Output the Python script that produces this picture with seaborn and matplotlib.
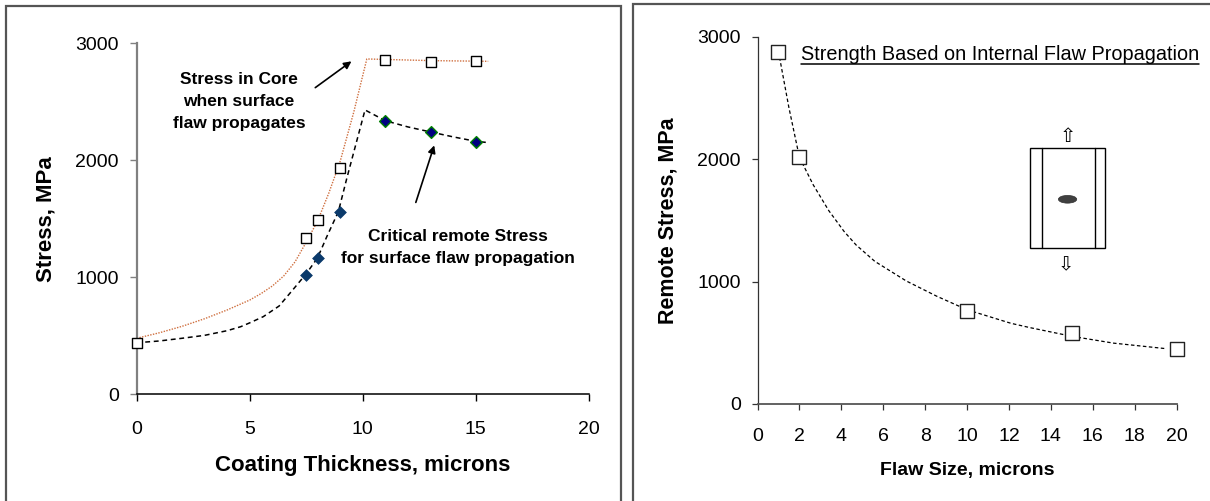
import numpy as np
import pandas as pd
import matplotlib
matplotlib.use("Agg")
import matplotlib.pyplot as plt
import seaborn as sns
from matplotlib.patches import Rectangle, Ellipse
from matplotlib.lines import Line2D

# ---------------- data ----------------
# Left panel: coating thickness (microns) vs stress (MPa)
core_x = [0, 7.5, 8, 9, 11, 13, 15]
core_y = [440, 1333, 1489, 1931, 2857, 2838, 2846]
crit_lo_x = [7.5, 8, 9]
crit_lo_y = [1019, 1162, 1560]
crit_hi_x = [11, 13, 15]
crit_hi_y = [2338, 2242, 2160]
core_trend_x = [0, 1, 2, 3, 4, 5, 5.5, 6, 6.5, 7, 7.5, 8, 8.5, 9, 9.6, 10.18, 11, 13, 15.55]
core_trend_y = [478, 525, 580, 645, 720, 805, 860, 925, 1010, 1130, 1300, 1480, 1720, 1990, 2410, 2866, 2862, 2852, 2846]
crit_trend_x = [0, 1, 2, 3, 4, 4.6, 5, 5.6, 6.3, 6.9, 7.5, 8, 8.41, 8.92, 9.3, 9.7, 10.1, 11, 12, 13, 14, 15, 15.6]
crit_trend_y = [440, 455, 478, 503, 543, 577, 610, 663, 754, 891, 1030, 1165, 1347, 1560, 1850, 2140, 2430, 2338, 2285, 2242, 2200, 2162, 2150]
left_xticks = [0, 5, 10, 15, 20]
left_yticks = [0, 1000, 2000, 3000]

# Right panel: flaw size (microns) vs remote stress (MPa)
flaw_x = [1, 2, 10, 15, 20]
flaw_y = [2873, 2015, 762, 583, 447]
flaw_trend_x = [1, 1.5, 2, 2.66, 3.4, 4.13, 4.7, 5.6, 7.1, 8.56, 10, 12.1, 13, 15, 17, 19.5]
flaw_trend_y = [2880, 2420, 2015, 1790, 1580, 1410, 1300, 1165, 1005, 880, 770, 659, 624, 553, 497, 452]
right_xticks = [0, 2, 4, 6, 8, 10, 12, 14, 16, 18, 20]
right_yticks = [0, 1000, 2000, 3000]

# ---------------- style ----------------
sns.set_theme(style="ticks")
plt.rcParams["font.family"] = ["Liberation Sans", "DejaVu Sans"]
plt.rcParams["text.color"] = "black"
plt.rcParams["axes.labelcolor"] = "black"
plt.rcParams["xtick.color"] = "black"
plt.rcParams["ytick.color"] = "black"

W, H = 1210, 501
fig = plt.figure(figsize=(W / 100, H / 100), dpi=100)
fig.patch.set_facecolor("white")

# panel borders
fig.add_artist(Rectangle((6 / W, -0.05), (621 - 6) / W, 1.05 - 6 / H,
                         transform=fig.transFigure, fill=False, lw=1.6, ec="#555555"))
fig.add_artist(Rectangle((633 / W, -0.05), (1230 - 633) / W, 1.05 - 4 / H,
                         transform=fig.transFigure, fill=False, lw=1.6, ec="#555555"))

ax1 = fig.add_axes([136.7 / W, 1 - 394.2 / H, (588.8 - 136.7) / W, (394.2 - 43.3) / H])
ax2 = fig.add_axes([757.5 / W, 1 - 404 / H, (1176.5 - 757.5) / W, (404 - 36.7) / H])

# ---------------- left panel ----------------
sns.lineplot(x=core_trend_x, y=core_trend_y, ax=ax1, sort=False, estimator=None,
             color="#CF6F3F", lw=1.0, linestyle=(0, (1, 1)))
sns.lineplot(x=crit_trend_x, y=crit_trend_y, ax=ax1, sort=False, estimator=None,
             color="black", lw=1.1, linestyle=(0, (3.2, 2.4)))
sns.scatterplot(x=core_x, y=core_y, ax=ax1, marker="s", s=62, color="white",
                edgecolor="black", linewidth=1.0, clip_on=False, zorder=5)
sns.scatterplot(x=crit_lo_x, y=crit_lo_y, ax=ax1, marker="D", s=36, color="#0B3A6B",
                edgecolor="#0B3A6B", linewidth=0.5, zorder=5)
sns.scatterplot(x=crit_hi_x, y=crit_hi_y, ax=ax1, marker="D", s=36, color="#000080",
                edgecolor="#008000", linewidth=1.0, zorder=5)

ax1.set_xlim(0, 20)
ax1.set_ylim(0, 3000)
ax1.set_xticks(left_xticks)
ax1.set_yticks(left_yticks)
for s in ["top", "right"]:
    ax1.spines[s].set_visible(False)
ax1.spines["left"].set_color("#808080")
ax1.spines["left"].set_linewidth(1.6)
ax1.spines["bottom"].set_color("black")
ax1.spines["bottom"].set_linewidth(1.1)
ax1.tick_params(axis="y", direction="out", length=5, width=1, color="#808080", pad=8, labelsize=14)
ax1.tick_params(axis="x", direction="out", length=5, width=1, color="black", pad=14, labelsize=14)

ax1.set_xlabel("Coating Thickness, microns", fontsize=16, fontweight="bold")
ax1.xaxis.label.set_va("center")
ax1.xaxis.set_label_coords(0.5, -0.2018)
ax1.set_ylabel("Stress, MPa", fontsize=16, fontweight="bold")
ax1.yaxis.label.set_va("center")
ax1.yaxis.set_label_coords(-0.2006, 0.5)

ax1.text(4.52, 2501, "Stress in Core\nwhen surface\nflaw propagates", ha="center", va="center",
         multialignment="center", fontsize=12.5, fontweight="bold", linespacing=1.6)
ax1.text(14.19, 1252, "Critical remote Stress\nfor surface flaw propagation", ha="center",
         va="center", multialignment="center", fontsize=12.5, fontweight="bold", linespacing=1.6)
ax1.annotate("", xy=(9.6, 2860), xytext=(7.8, 2607),
             arrowprops=dict(arrowstyle="-|>", color="black", lw=1.2, mutation_scale=11))
ax1.annotate("", xy=(13.2, 2150), xytext=(12.31, 1617),
             arrowprops=dict(arrowstyle="-|>", color="black", lw=1.2, mutation_scale=11))

# ---------------- right panel ----------------
sns.lineplot(x=flaw_trend_x, y=flaw_trend_y, ax=ax2, sort=False, estimator=None,
             color="black", lw=0.9, linestyle=(0, (2.8, 2.0)))
sns.scatterplot(x=flaw_x, y=flaw_y, ax=ax2, marker="s", s=100, color="white",
                edgecolor="#222222", linewidth=1.0, clip_on=False, zorder=5)

ax2.set_xlim(0, 20)
ax2.set_ylim(0, 3000)
ax2.set_xticks(right_xticks)
ax2.set_yticks(right_yticks)
for s in ["top", "right"]:
    ax2.spines[s].set_visible(False)
ax2.spines["left"].set_color("#333333")
ax2.spines["left"].set_linewidth(0.9)
ax2.spines["bottom"].set_color("#555555")
ax2.spines["bottom"].set_linewidth(1.3)
ax2.tick_params(axis="y", direction="out", length=4, width=0.9, color="#333333", pad=8, labelsize=14)
ax2.tick_params(axis="x", direction="out", length=4, width=0.9, color="#333333", pad=13, labelsize=14)

ax2.set_xlabel("Flaw Size, microns", fontsize=14, fontweight="bold")
ax2.xaxis.label.set_va("center")
ax2.xaxis.set_label_coords(0.5, -0.1797)
ax2.set_ylabel("Remote Stress, MPa", fontsize=15.5, fontweight="bold")
ax2.yaxis.label.set_va("center")
ax2.yaxis.set_label_coords(-0.213, 0.5)

title = ax2.text(2.06, 2857, "Strength Based on Internal Flaw Propagation", ha="left",
                 va="center", fontsize=14.3, clip_on=False)

# specimen sketch
ax2.add_patch(Rectangle((13.0, 1272), 3.6, 817, fill=False, lw=1.0, ec="black"))
ax2.plot([13.57, 13.57], [1272, 2089], color="black", lw=1.0)
ax2.plot([16.09, 16.09], [1272, 2089], color="black", lw=1.0)
ax2.add_patch(Ellipse((14.8, 1672), 0.876, 63, fc="#404040", ec="#303030", lw=0.5))
ax2.text(14.82, 2185, "\u21e7", ha="center", va="center", fontsize=14, family="DejaVu Sans")
ax2.text(14.72, 1140, "\u21e9", ha="center", va="center", fontsize=14, family="DejaVu Sans")

# underline the title text
fig.canvas.draw()
bb = title.get_window_extent(renderer=fig.canvas.get_renderer())
uy = (bb.y0 - 0.5) / H
fig.add_artist(Line2D([bb.x0 / W, bb.x1 / W], [uy, uy], transform=fig.transFigure,
                      color="black", lw=1.1))

fig.savefig("out.png", dpi=100, facecolor="white")
